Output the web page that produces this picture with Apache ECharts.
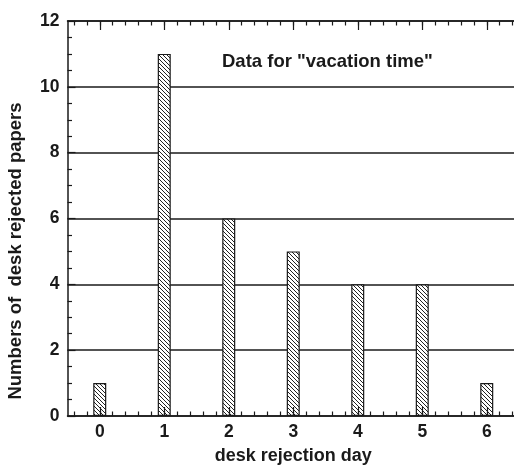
<!DOCTYPE html>
<html>
<head>
<meta charset="utf-8">
<script src="https://cdn.jsdelivr.net/npm/echarts@6/dist/echarts.min.js"></script>
<style>
  html, body { margin: 0; padding: 0; background: #fff; }
  #chart { width: 514px; height: 466px; }
</style>
</head>
<body>
<div id="chart"></div>
<script>
// Desk rejections by day, "vacation time" sample
const rejectionDays = [0, 1, 2, 3, 4, 5, 6];
const rejectedPapers = [1, 11, 6, 5, 4, 4, 1];
const dayTickLabels = [0, 1, 2, 3, 4, 5, 6];
const countTickLabels = [0, 2, 4, 6, 8, 10, 12];

const FONT = '"Liberation Sans", Arial, Helvetica, sans-serif';
const INK = '#1a1a1a';

// minor ticks on the day axis every 0.2 day
const minorDayTicks = [];
for (let k = -2; k <= 32; k++) minorDayTicks.push(Math.round(k * 0.2 * 10) / 10);

// diagonal hatch fill for the bars
function hatchPattern() {
  const s = 4;
  const c = document.createElement('canvas');
  c.width = s; c.height = s;
  const g = c.getContext('2d');
  g.fillStyle = '#fff';
  g.fillRect(0, 0, s, s);
  g.strokeStyle = '#222';
  g.lineWidth = 1;
  g.beginPath();
  g.moveTo(-1, -1); g.lineTo(s + 1, s + 1);
  g.moveTo(-1, s - 1); g.lineTo(1, s + 1);
  g.moveTo(s - 1, -1); g.lineTo(s + 1, 1);
  g.stroke();
  return c;
}

const chart = echarts.init(document.getElementById('chart'), null, { renderer: 'canvas' });

const labelStyle = { fontFamily: FONT, fontWeight: 'bold', fontSize: 17.5, color: INK };

function dayAxis(position, ticks, len, withLine, withLabels) {
  return {
    type: 'value',
    position: position,
    min: -0.5,
    max: 6.5,
    z: 5,
    axisLine: { show: withLine, onZero: false, lineStyle: { color: INK, width: 1.5 } },
    axisTick: { show: true, inside: true, length: len, customValues: ticks,
      lineStyle: { color: INK, width: 1.2 } },
    axisLabel: withLabels
      ? Object.assign({ show: true, margin: 7, customValues: dayTickLabels }, labelStyle)
      : { show: false },
    splitLine: { show: false }
  };
}

const mainDayAxis = dayAxis('bottom', dayTickLabels, 9, true, true);
mainDayAxis.name = 'desk rejection day';
mainDayAxis.nameLocation = 'middle';
mainDayAxis.nameGap = 31;
mainDayAxis.nameTextStyle = { fontFamily: FONT, fontWeight: 'bold', fontSize: 18, color: INK };

chart.setOption({
  animation: false,
  backgroundColor: '#fff',
  title: {
    text: 'Data for "vacation time"',
    left: 217,
    top: 47,
    textStyle: { fontFamily: FONT, fontWeight: 'bold', fontSize: 18.5, color: INK }
  },
  grid: {
    left: 67.5, top: 21, width: 451.5, height: 395,
    containLabel: false,
    outerBoundsMode: 'none'
  },
  xAxis: [
    mainDayAxis,
    dayAxis('bottom', minorDayTicks, 4.5, false, false),
    dayAxis('top', dayTickLabels, 9, true, false),
    dayAxis('top', minorDayTicks, 4.5, false, false)
  ],
  yAxis: {
    type: 'value',
    min: countTickLabels[0],
    max: countTickLabels[countTickLabels.length - 1],
    interval: 2,
    axisLine: { show: true, onZero: false, lineStyle: { color: INK, width: 1.5 } },
    axisTick: { show: true, inside: true, length: 8, lineStyle: { color: INK, width: 1.2 } },
    minorTick: { show: true, splitNumber: 4, length: 4.5, lineStyle: { color: INK, width: 1.2 } },
    axisLabel: Object.assign({ margin: 8 }, labelStyle),
    splitLine: { show: true, lineStyle: { color: INK, width: 1.5 } }
  },
  graphic: [{
    type: 'text',
    x: 16,
    y: 251,
    rotation: Math.PI / 2,
    style: {
      text: 'Numbers of  desk rejected papers',
      font: 'bold 18.5px ' + FONT,
      fill: INK,
      align: 'center',
      verticalAlign: 'middle'
    }
  }],
  series: [{
    type: 'bar',
    xAxisIndex: 0,
    barWidth: 13,
    data: rejectionDays.map((d, i) => [d, rejectedPapers[i]]),
    itemStyle: {
      color: { image: hatchPattern(), repeat: 'repeat' },
      borderColor: INK,
      borderWidth: 1.2
    }
  }]
});
</script>
</body>
</html>
